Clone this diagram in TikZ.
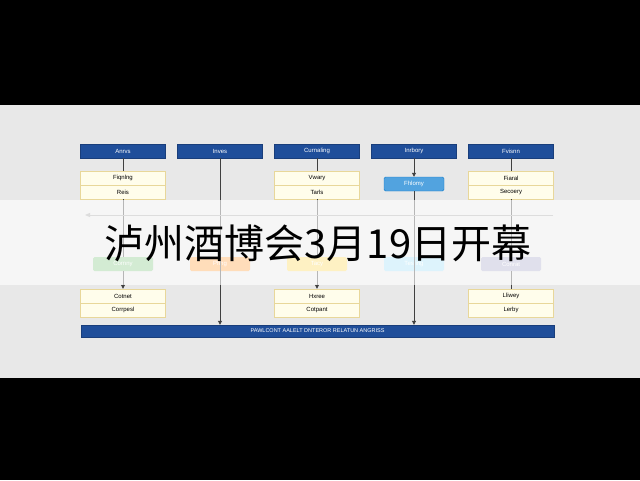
\documentclass[tikz,border=0pt]{standalone}
\usepackage{fontspec}
\setmainfont{Liberation Sans}
\newfontfamily\cjk{Noto Sans CJK SC}
\usetikzlibrary{arrows.meta}
\definecolor{hdr}{HTML}{1F4E9A}
\definecolor{ylw}{HTML}{FFFDEB}
\definecolor{ybd}{HTML}{E8D79A}
\tikzset{
 hbox/.style={draw=hdr!80!black,fill=hdr,text=white,minimum width=85pt,minimum height=14pt,inner sep=0pt,font=\fontsize{6}{6}\selectfont},
 ybox/.style={draw=ybd,fill=ylw,minimum width=85pt,minimum height=14pt,inner sep=0pt,font=\fontsize{6}{6}\selectfont},
 cbox/.style={minimum width=60pt,minimum height=14pt,inner sep=0pt,rounded corners=1.5pt,text=white,font=\fontsize{6}{6}\selectfont},
 ln/.style={draw=black!75,line width=0.8pt},
 arr/.style={ln,-{Triangle[length=4pt,width=4pt]}}
}
\begin{document}
\begin{tikzpicture}[x=1pt,y=-1pt]
\useasboundingbox (0,0) rectangle (640,480);
\fill[black] (0,0) rectangle (640,480);
\fill[black!9] (0,105) rectangle (640,378);
% headers
\foreach \x/\t/\n in {123/Anrvs/h1,220/Inves/h2,317/Curnaling/h3,414/Inrbory/h4,511/Fvisnn/h5}
  \node[hbox] (\n) at (\x,151) {\t};
% upper yellow
\node[ybox] (a1) at (123,178) {Fiqnlng};
\node[ybox] (a2) at (123,192) {Reis};
\node[ybox] (c1) at (317,178) {Vwary};
\node[ybox] (c2) at (317,192) {Tarls};
\node[ybox] (e1) at (511,178) {Fiaral};
\node[ybox] (e2) at (511,192) {Secoery};
\node[cbox,fill=cyan!70!blue!70,draw=cyan!60!blue] (d1) at (414,184) {Fhlomy};
% lower colored
\node[cbox,fill=green!55!black!45] (g1) at (123,264) {Cornny};
\node[cbox,fill=orange!70] (g2) at (220,264) {Pfing};
\node[cbox,fill=yellow!60!orange!60] (g3) at (317,264) {Tacy};
\node[cbox,fill=cyan!35] (g4) at (414,264) {Tesfing};
\node[cbox,fill=blue!25!gray!50] (g5) at (511,264) {Conrat};
% lower yellow
\node[ybox] (l1) at (123,296) {Cotnet};
\node[ybox] (l2) at (123,310) {Corrpesl};
\node[ybox] (m1) at (317,296) {Hxree};
\node[ybox] (m2) at (317,310) {Cotpant};
\node[ybox] (n1) at (511,296) {Lliwey};
\node[ybox] (n2) at (511,310) {Lerby};
% bottom bar
\node[draw=hdr!80!black,fill=hdr,text=white,minimum width=473pt,minimum height=12pt,inner sep=0pt,font=\fontsize{5.5}{6}\selectfont] (bar) at (317.5,331) {PAWLCONT AALELT DNTEROR RELATUN ANGRISS};
% connectors
\draw[ln] (h1) -- (a1);
\draw[ln] (h3) -- (c1);
\draw[ln] (h5) -- (e1);
\draw[arr] (h4) -- (d1);
\draw[arr] (h2) -- (bar.north -| h2);
\draw[arr] (d1) -- (bar.north -| d1);
\draw[ln] (c2) -- (g3);
\draw[ln] (e2) -- (g5);
\draw[ln] (a2) -- (g1);
\draw[arr] (g1) -- (l1);
\draw[arr] (g3) -- (m1);
\draw[ln] (g5) -- (n1);
\coordinate (hl) at (85,215); \coordinate (hr) at (553,215);
\draw[draw=black!35,line width=0.8pt,-{Triangle[length=5pt,width=4pt]}] (hr) -- (hl);
% caption band
\fill[white,opacity=0.62] (0,200) rectangle (640,285);
\node[font=\cjk\fontsize{40}{40}\selectfont,text=black] (cap) at (318,243) {泸州酒博会3月19日开幕};
\end{tikzpicture}
\end{document}
